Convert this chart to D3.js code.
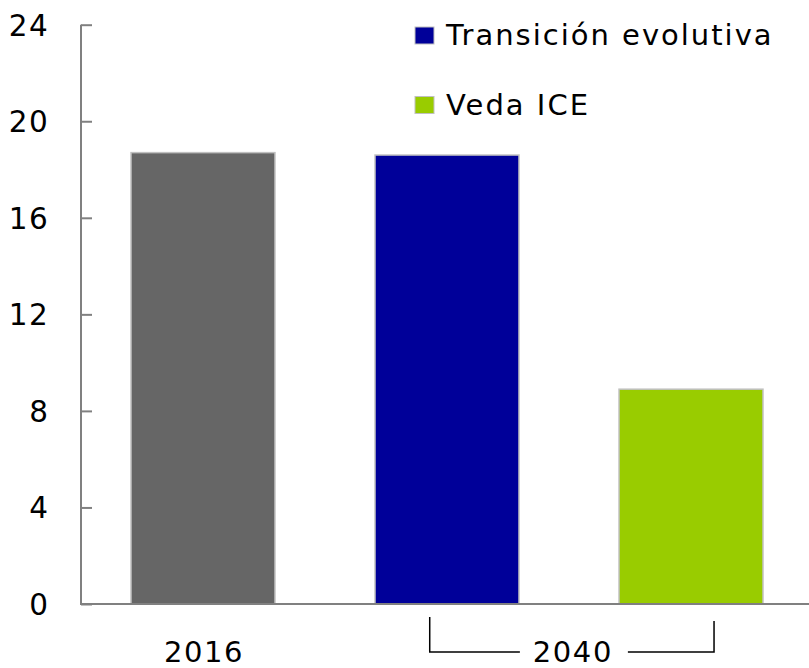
<!DOCTYPE html>
<html><head><meta charset="utf-8">
<script src="https://cdn.jsdelivr.net/npm/d3@7"></script>
<style>body{margin:0;background:#fff}svg{display:block}text{font-family:"DejaVu Sans",sans-serif;fill:#000;letter-spacing:1.6px}</style>
</head><body>
<script>
const categories = ["2016", "Transición evolutiva", "Veda ICE"];
const values = [18.7, 18.6, 8.9];
const colors = ["#666666", "#000099", "#99cc00"];
const yTicks = [0, 4, 8, 12, 16, 20, 24];
const legendItems = ["Transición evolutiva", "Veda ICE"];
const legendColors = ["#000099", "#99cc00"];
const groupLabels = ["2016", "2040"];

const W = 809, H = 668;
const svg = d3.select("body").append("svg").attr("width", W).attr("height", H);
const x0 = 81, x1 = 813, yTop = 24.7, yBot = 604;
const x = d3.scaleBand().domain(categories).range([x0, x1]).paddingInner(0.41).paddingOuter(0.205);
const y = d3.scaleLinear().domain([0, 24]).range([yBot, yTop]);

// bars
svg.selectAll("rect.bar").data(values).join("rect").attr("class","bar")
  .attr("x", (d,i)=>x(categories[i]))
  .attr("y", d=>y(d))
  .attr("width", x.bandwidth())
  .attr("height", d=>yBot - y(d))
  .attr("fill", (d,i)=>colors[i])
  .attr("stroke", "#c0c0c0").attr("stroke-width", 1.5);

// y axis
const yAxis = d3.axisRight(y).tickValues(yTicks).tickSize(11).tickFormat("");
const ga = svg.append("g").attr("transform", `translate(${x0},0)`).call(yAxis);
ga.select(".domain").remove();
ga.selectAll(".tick line").attr("stroke", "#808080").attr("stroke-width", 2);
svg.append("line").attr("x1", x0).attr("x2", x0).attr("y1", y(24)).attr("y2", yBot+1)
  .attr("stroke", "#808080").attr("stroke-width", 2);
svg.selectAll("text.ytick").data(yTicks).join("text").attr("class","ytick")
  .attr("x", 49.5).attr("y", d=>y(d)).attr("dy", "0.37em").attr("text-anchor","end")
  .attr("font-size", 29.5).text(d=>d);

// x axis line
svg.append("line").attr("x1", x0).attr("x2", W).attr("y1", yBot).attr("y2", yBot)
  .attr("stroke", "#808080").attr("stroke-width", 2);

// group labels
const c0 = x(categories[0]) + x.bandwidth()/2;
svg.append("text").attr("x", c0 + 1).attr("y", 662).attr("text-anchor","middle").attr("font-size", 29).text(groupLabels[0]);
const gL = x(categories[1]) + x.bandwidth()*0.38;
const gR = x(categories[2]) + x.bandwidth()*0.66;
const gC = (gL + gR)/2;
svg.append("text").attr("x", gC + 1).attr("y", 662).attr("text-anchor","middle").attr("font-size", 29).text(groupLabels[1]);
svg.append("path").attr("d", `M${gL},617V652H${gC-52}`).attr("fill","none").attr("stroke","#000").attr("stroke-width",1.5);
svg.append("path").attr("d", `M${gC+56},652H${gR}V621`).attr("fill","none").attr("stroke","#000").attr("stroke-width",1.5);

// legend
const lg = svg.selectAll("g.leg").data(legendItems).join("g").attr("class","leg")
  .attr("transform", (d,i)=>`translate(415,${27 + i*69.5})`);
lg.append("rect").attr("width", 19).attr("height", 17).attr("fill", (d,i)=>legendColors[i])
  .attr("stroke", "#c0c0c0").attr("stroke-width", 1);
lg.append("text").attr("x", 31).attr("y", 18).attr("font-size", 29).style("letter-spacing", "2px").text(d=>d);
</script>
</body></html>
